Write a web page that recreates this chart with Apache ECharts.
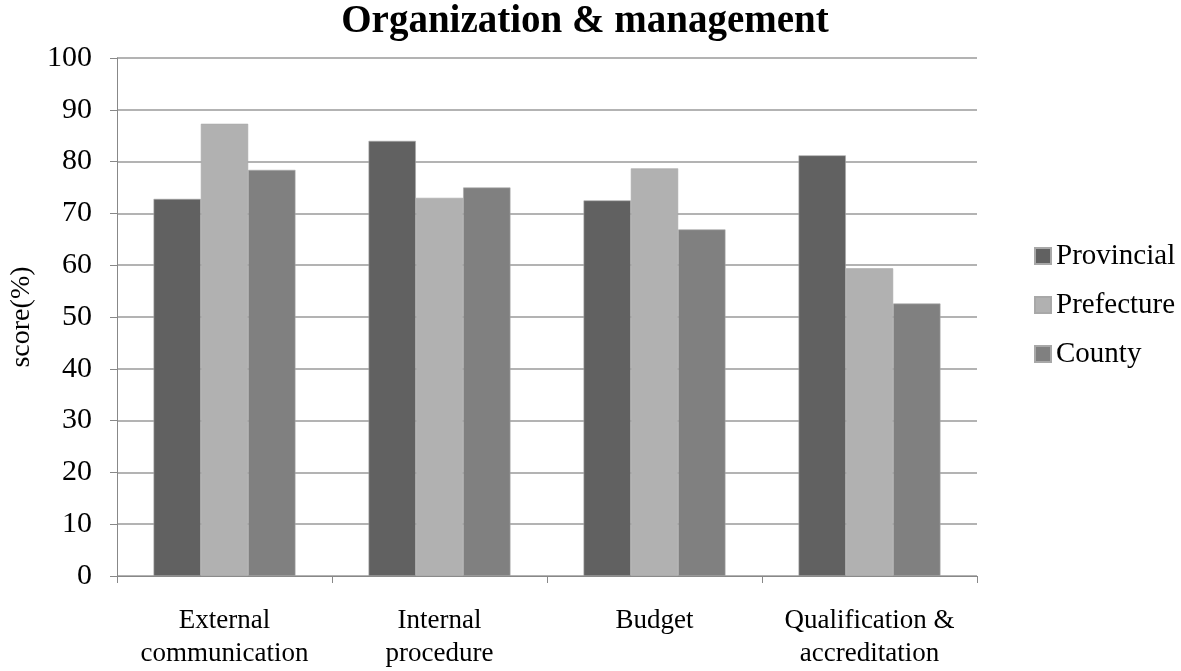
<!DOCTYPE html>
<html><head><meta charset="utf-8">
<script src="https://cdn.jsdelivr.net/npm/echarts@6/dist/echarts.min.js"></script>
<style>html,body{margin:0;padding:0;background:#fff}#c{width:1181px;height:671px}</style>
</head><body><div id="c"></div>
<script>
const categories = ['External\ncommunication', 'Internal\nprocedure', 'Budget', 'Qualification &\naccreditation'];
const provincial = [72.8, 84.0, 72.5, 81.2];
const prefecture = [87.3, 73.0, 78.7, 59.4];
const county = [78.4, 75.0, 66.9, 52.6];
const yTicks = [0, 10, 20, 30, 40, 50, 60, 70, 80, 90, 100];

const font = 'Liberation Serif, Times New Roman, serif';
const chart = echarts.init(document.getElementById('c'));
const barStyle = c => ({ color: c, borderColor: '#a8a8a8', borderWidth: 0.6 });
chart.setOption({
  animation: false,
  title: { text: 'Organization & management', left: 585, textAlign: 'center', top: 2, padding: 0,
    textStyle: { fontFamily: font, fontWeight: 'bold', fontSize: 39, color: '#000' } },
  legend: { orient: 'vertical', left: 1034, top: 241, itemWidth: 16, itemHeight: 16, itemGap: 19,
    icon: 'rect', padding: 0, textStyle: { fontFamily: font, fontSize: 29, lineHeight: 30, color: '#000', padding: [0, 0, 0, 0] },
    data: ['Provincial', 'Prefecture', 'County'] },
  grid: { left: 117, right: 204, top: 58, bottom: 95, containLabel: false },
  xAxis: { type: 'category', data: categories,
    axisLine: { lineStyle: { color: '#888', width: 1 } },
    axisTick: { show: true, interval: 0, length: 7, lineStyle: { color: '#888' } },
    axisLabel: { interval: 0, fontFamily: font, fontSize: 27, color: '#000', margin: 28, lineHeight: 33 } },
  yAxis: { type: 'value', min: 0, max: 100, interval: 10,
    name: 'score(%)', nameLocation: 'middle', nameGap: 80, nameRotate: 90,
    nameTextStyle: { fontFamily: font, fontSize: 28, color: '#000' },
    axisLine: { show: true, lineStyle: { color: '#888', width: 1 } },
    axisTick: { show: true, length: 7, lineStyle: { color: '#888' } },
    splitLine: { lineStyle: { color: '#9a9a9a', width: 1.5 } },
    axisLabel: { fontFamily: font, fontSize: 30, color: '#000', margin: 25,
      formatter: v => yTicks.includes(v) ? String(v) : '' } },
  series: [
    { name: 'Provincial', type: 'bar', data: provincial, itemStyle: barStyle('#616161'), barGap: '0%', barCategoryGap: '34%' },
    { name: 'Prefecture', type: 'bar', data: prefecture, itemStyle: barStyle('#b1b1b1') },
    { name: 'County', type: 'bar', data: county, itemStyle: barStyle('#808080') }
  ]
});
</script></body></html>
